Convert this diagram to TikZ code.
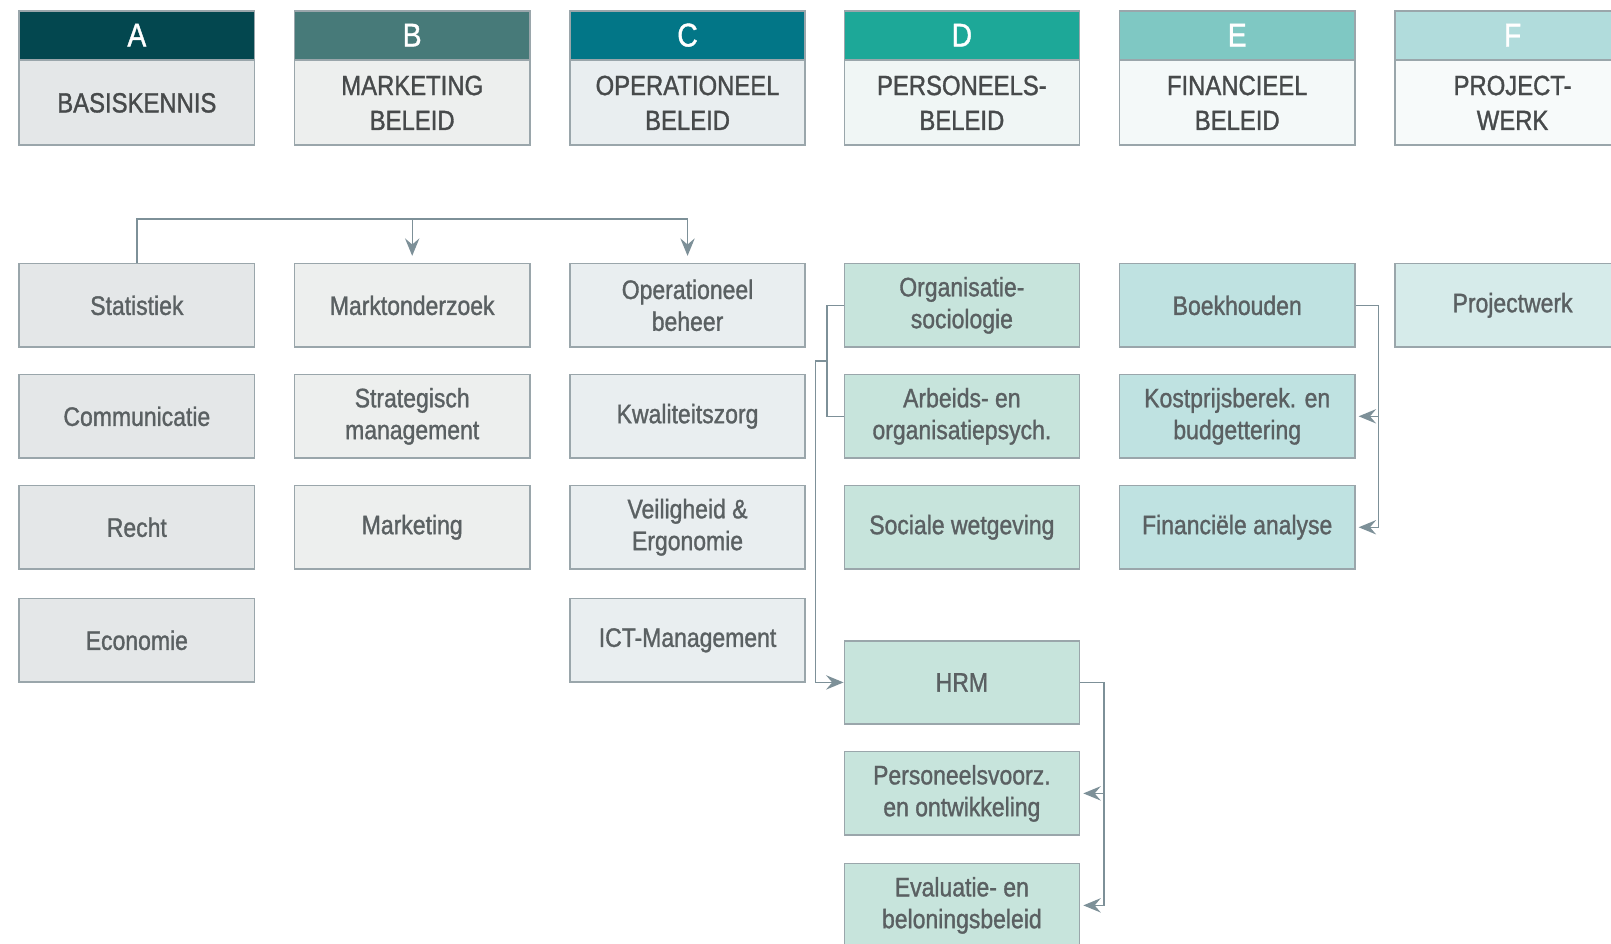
\documentclass[tikz,border=0pt]{standalone}
\usepackage{fontspec}
\setmainfont{Liberation Sans}[FakeStretch=0.86,FakeBold=1.2]
\usetikzlibrary{arrows.meta,calc}
\definecolor{colA}{HTML}{03474F}
\definecolor{colB}{HTML}{477A79}
\definecolor{colC}{HTML}{027687}
\definecolor{colD}{HTML}{1DA898}
\definecolor{colE}{HTML}{7FC8C3}
\definecolor{colF}{HTML}{B1DCDC}
\definecolor{bodyA}{HTML}{E4E7E8}
\definecolor{bodyB}{HTML}{EDEFEE}
\definecolor{bodyC}{HTML}{E9EEF0}
\definecolor{bodyD}{HTML}{F0F6F5}
\definecolor{bodyE}{HTML}{F4F9F9}
\definecolor{bodyF}{HTML}{F7FAFA}
\definecolor{itemD}{HTML}{C7E4DC}
\definecolor{itemE}{HTML}{BFE2E1}
\definecolor{itemF}{HTML}{D6EBEA}
\definecolor{edgecol}{HTML}{9AA6AB}
\definecolor{conncol}{HTML}{7D9098}
\definecolor{hdtext}{HTML}{474A4B}
\definecolor{ittext}{HTML}{5A6062}
\begin{document}
\begin{tikzpicture}[x=1pt,y=-1pt,
  band/.style={draw=edgecol,line width=1.4pt,minimum width=229pt,minimum height=47pt,inner sep=0pt,anchor=north west,text=white,font=\fontsize{32}{36}\selectfont},
  hbody/.style={draw=edgecol,line width=1.4pt,minimum width=229pt,minimum height=82pt,inner sep=0pt,anchor=north west,text=hdtext,align=center,font=\fontsize{27}{34}\selectfont},
  item/.style={draw=edgecol,line width=1.4pt,minimum width=229pt,minimum height=81pt,inner sep=0pt,anchor=north west,text=ittext,align=center,font=\fontsize{26}{31}\selectfont},
  conn/.style={draw=conncol,line width=1.3pt},
  arr/.style={-{Stealth[length=17pt,width=14pt,inset=6pt,fill=conncol]}}
]
\useasboundingbox (0,0) rectangle (1568,918);
\clip (0,0) rectangle (1568,918);
% headers
\node[band,fill=colA] (hA) at (18,10) {A};
\node[hbody,fill=bodyA] (bA) at (hA.south west) {BASISKENNIS};
\node[band,fill=colB] (hB) at (286,10) {B};
\node[hbody,fill=bodyB] (bB) at (hB.south west) {MARKETING\\BELEID};
\node[band,fill=colC] (hC) at (554,10) {C};
\node[hbody,fill=bodyC] (bC) at (hC.south west) {OPERATIONEEL\\BELEID};
\node[band,fill=colD] (hD) at (821,10) {D};
\node[hbody,fill=bodyD] (bD) at (hD.south west) {PERSONEELS-\\BELEID};
\node[band,fill=colE] (hE) at (1089,10) {E};
\node[hbody,fill=bodyE] (bE) at (hE.south west) {FINANCIEEL\\BELEID};
\node[band,fill=colF] (hF) at (1357,10) {F};
\node[hbody,fill=bodyF] (bF) at (hF.south west) {PROJECT-\\WERK};
% column A
\node[item,fill=bodyA] (stat) at (18,256) {Statistiek};
\node[item,fill=bodyA] (comm) at (18,364) {Communicatie};
\node[item,fill=bodyA] (recht) at (18,472) {Recht};
\node[item,fill=bodyA] (econ) at (18,582) {Economie};
% column B
\node[item,fill=bodyB] (markt) at (286,256) {Marktonderzoek};
\node[item,fill=bodyB] (strat) at (286,364) {Strategisch\\management};
\node[item,fill=bodyB] (mark) at (286,472) {Marketing};
% column C
\node[item,fill=bodyC] (oper) at (554,256) {Operationeel\\beheer};
\node[item,fill=bodyC] (kwal) at (554,364) {Kwaliteitszorg};
\node[item,fill=bodyC] (veil) at (554,472) {Veiligheid \&\\Ergonomie};
\node[item,fill=bodyC] (ict) at (554,582) {ICT-Management};
% column D
\node[item,fill=itemD] (orgsoc) at (821,256) {Organisatie-\\sociologie};
\node[item,fill=itemD] (arbeid) at (821,364) {Arbeids- en\\organisatiepsych.};
\node[item,fill=itemD] (soc) at (821,472) {Sociale wetgeving};
\node[item,fill=itemD] (hrm) at (821,623) {HRM};
\node[item,fill=itemD] (pers) at (821,731) {Personeelsvoorz.\\en ontwikkeling};
\node[item,fill=itemD] (eval) at (821,840) {Evaluatie- en\\beloningsbeleid};
% column E
\node[item,fill=itemE] (boek) at (1089,256) {Boekhouden};
\node[item,fill=itemE] (kost) at (1089,364) {Kostprijsberek. en\\budgettering};
\node[item,fill=itemE] (fin) at (1089,472) {Financiële analyse};
% column F
\node[item,fill=itemF] (proj) at (1357,256) {Projectwerk};
% connectors
\coordinate (ty) at (0,213);
\draw[conn,arr] (stat.north) -- (stat.north |- ty) -- (oper.north |- ty) -- ([yshift=7pt]oper.north);
\draw[conn,arr] (markt.north |- ty) -- ([yshift=7pt]markt.north);
\draw[conn] (orgsoc.west) -- ++(-16,0) coordinate (d1) |- (arbeid.west);
\coordinate (d2) at ($(d1)!0.5!(d1 |- arbeid.west)$);
\draw[conn,arr] (d2) -- ++(-11,0) |- (hrm.west);
\draw[conn,arr] (boek.east) -- ++(22,0) coordinate (e1) |- ([xshift=3pt]fin.east);
\draw[conn,arr] (e1 |- kost.east) -- ([xshift=3pt]kost.east);
\draw[conn,arr] (hrm.east) -- ++(23,0) coordinate (h1) |- ([xshift=3pt]eval.east);
\draw[conn,arr] (h1 |- pers.east) -- ([xshift=3pt]pers.east);
\end{tikzpicture}
\end{document}
